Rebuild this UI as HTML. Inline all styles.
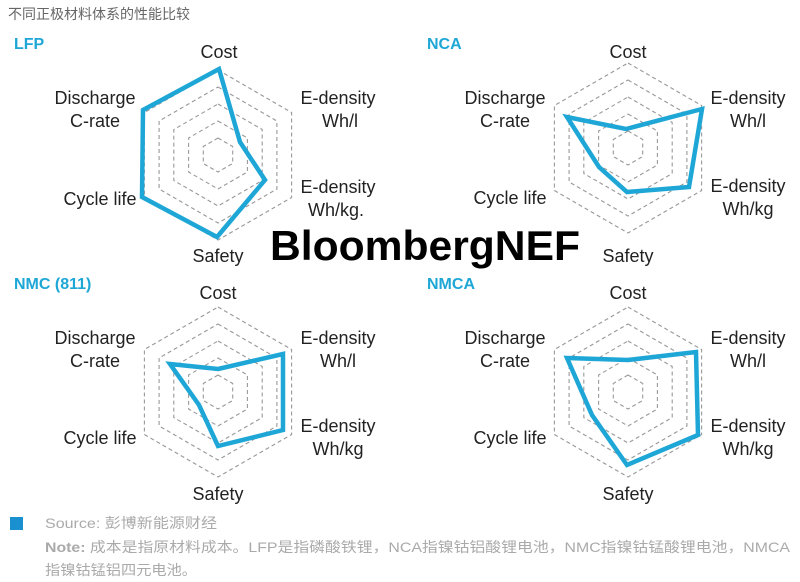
<!DOCTYPE html>
<html><head><meta charset="utf-8"><style>
html,body{margin:0;padding:0;background:#fff;}
svg{display:block;}
text{font-family:"Liberation Sans","Noto Sans CJK SC",sans-serif;}
</style></head><body>
<svg width="800" height="582" viewBox="0 0 800 582" xmlns="http://www.w3.org/2000/svg">
<defs>
<g id="hex" fill="none" stroke="#999" stroke-width="1.1" stroke-dasharray="4,3">
<polygon points="0,-85 73.6,-42.5 73.6,42.5 0,85 -73.6,42.5 -73.6,-42.5"/>
<polygon points="0,-68 58.9,-34 58.9,34 0,68 -58.9,34 -58.9,-34"/>
<polygon points="0,-51 44.2,-25.5 44.2,25.5 0,51 -44.2,25.5 -44.2,-25.5"/>
<polygon points="0,-34 29.4,-17 29.4,17 0,34 -29.4,17 -29.4,-17"/>
<polygon points="0,-17 14.7,-8.5 14.7,8.5 0,17 -14.7,8.5 -14.7,-8.5"/>
</g>
</defs>
<text x="8" y="19" font-size="14" fill="#666">不同正极材料体系的性能比较</text>

<g font-size="18" fill="#222">
<text x="14" y="49" font-size="16" font-weight="bold" fill="#1ea7d6">LFP</text>
<use href="#hex" x="218" y="155"/>
<polygon points="219,69 240,142 265,180 217,237 142,197 143,110" fill="none" stroke="#1ea7d6" stroke-width="4.5"/>
<text x="219" y="58" text-anchor="middle">Cost</text>
<text x="95" y="104" text-anchor="middle">Discharge</text>
<text x="95" y="127" text-anchor="middle">C-rate</text>
<text x="338" y="104" text-anchor="middle">E-density</text>
<text x="340" y="127" text-anchor="middle">Wh/l</text>
<text x="100" y="205" text-anchor="middle">Cycle life</text>
<text x="338" y="193" text-anchor="middle">E-density</text>
<text x="336" y="216" text-anchor="middle">Wh/kg.</text>
<text x="218" y="262" text-anchor="middle">Safety</text>

<text x="427" y="49" font-size="16" font-weight="bold" fill="#1ea7d6">NCA</text>
<use href="#hex" x="628" y="148"/>
<polygon points="626,129 702,109 689,187 627,192 599,167 567,117" fill="none" stroke="#1ea7d6" stroke-width="4.5"/>
<text x="628" y="58" text-anchor="middle">Cost</text>
<text x="505" y="104" text-anchor="middle">Discharge</text>
<text x="505" y="127" text-anchor="middle">C-rate</text>
<text x="748" y="104" text-anchor="middle">E-density</text>
<text x="748" y="127" text-anchor="middle">Wh/l</text>
<text x="510" y="204" text-anchor="middle">Cycle life</text>
<text x="748" y="192" text-anchor="middle">E-density</text>
<text x="748" y="215" text-anchor="middle">Wh/kg</text>
<text x="628" y="262" text-anchor="middle">Safety</text>

<text x="14" y="289" font-size="16" font-weight="bold" fill="#1ea7d6">NMC (811)</text>
<use href="#hex" x="218" y="392"/>
<polygon points="218,369 283,354 283,430 218,446 199,405 170,364" fill="none" stroke="#1ea7d6" stroke-width="4.5"/>
<text x="218" y="299" text-anchor="middle">Cost</text>
<text x="95" y="344" text-anchor="middle">Discharge</text>
<text x="95" y="367" text-anchor="middle">C-rate</text>
<text x="338" y="344" text-anchor="middle">E-density</text>
<text x="338" y="367" text-anchor="middle">Wh/l</text>
<text x="100" y="444" text-anchor="middle">Cycle life</text>
<text x="338" y="432" text-anchor="middle">E-density</text>
<text x="338" y="455" text-anchor="middle">Wh/kg</text>
<text x="218" y="500" text-anchor="middle">Safety</text>

<text x="427" y="289" font-size="16" font-weight="bold" fill="#1ea7d6">NMCA</text>
<use href="#hex" x="628" y="392"/>
<polygon points="628,360 696,352 698,435 627,465 592,415 567,358" fill="none" stroke="#1ea7d6" stroke-width="4.5"/>
<text x="628" y="299" text-anchor="middle">Cost</text>
<text x="505" y="344" text-anchor="middle">Discharge</text>
<text x="505" y="367" text-anchor="middle">C-rate</text>
<text x="748" y="344" text-anchor="middle">E-density</text>
<text x="748" y="367" text-anchor="middle">Wh/l</text>
<text x="510" y="444" text-anchor="middle">Cycle life</text>
<text x="748" y="432" text-anchor="middle">E-density</text>
<text x="748" y="455" text-anchor="middle">Wh/kg</text>
<text x="628" y="500" text-anchor="middle">Safety</text>
</g>

<rect x="250" y="259" width="340" height="14" fill="#fff"/>
<text x="425" y="260" text-anchor="middle" font-size="42" font-weight="bold" fill="#000" textLength="310" lengthAdjust="spacingAndGlyphs">BloombergNEF</text>

<rect x="10" y="517" width="13" height="13" fill="#1a90d0"/>
<text x="45" y="528" font-size="14" fill="#aaa" textLength="172" lengthAdjust="spacingAndGlyphs">Source: 彭博新能源财经</text>
<text x="45" y="552" font-size="14" fill="#aaa" textLength="745" lengthAdjust="spacingAndGlyphs"><tspan font-weight="bold">Note:</tspan> 成本是指原材料成本。LFP是指磷酸铁锂，NCA指镍钴铝酸锂电池，NMC指镍钴锰酸锂电池，NMCA</text>
<text x="45" y="575" font-size="14" fill="#aaa" textLength="152" lengthAdjust="spacingAndGlyphs">指镍钴锰铝四元电池。</text>
</svg>
</body></html>
